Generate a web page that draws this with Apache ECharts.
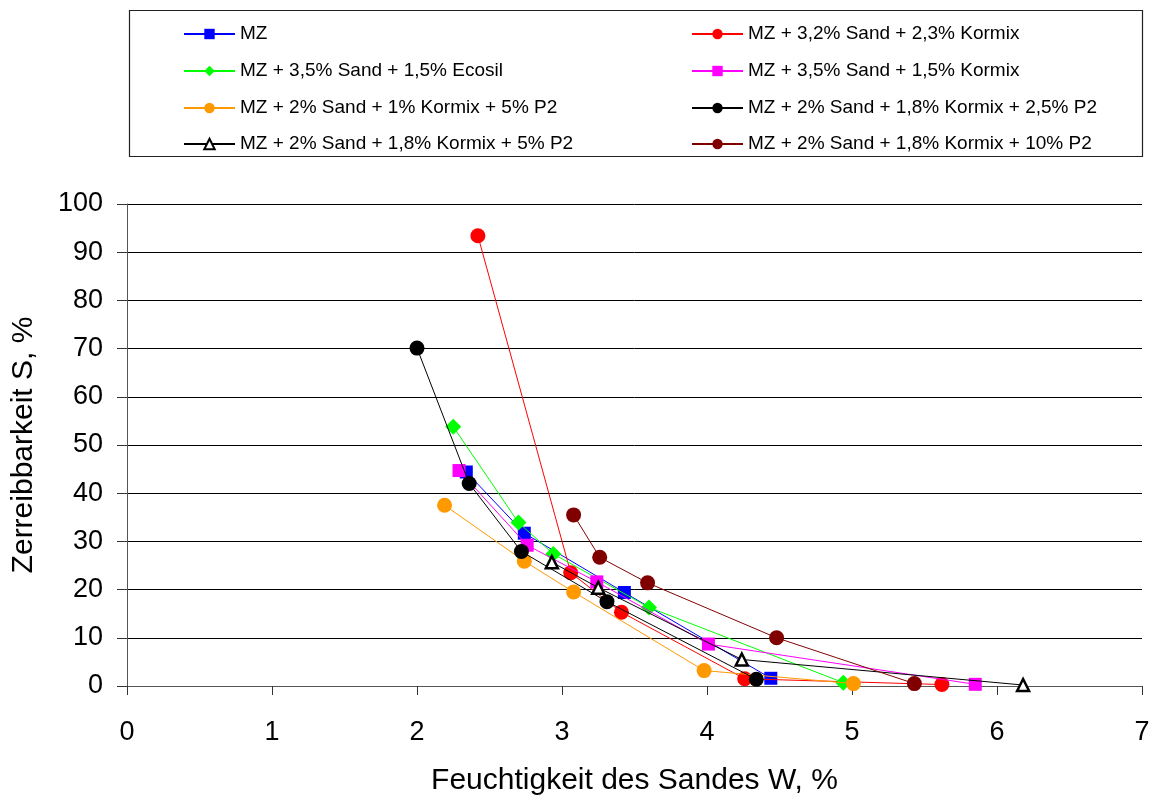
<!DOCTYPE html>
<html><head><meta charset="utf-8">
<script src="https://cdn.jsdelivr.net/npm/echarts@6/dist/echarts.min.js"></script>
<style>html,body{margin:0;padding:0;background:#fff}#c{width:1158px;height:801px}</style>
</head><body><div id="c"></div>
<script>
const seriesNames = [
  "MZ",
  "MZ + 3,2% Sand + 2,3% Kormix",
  "MZ + 3,5% Sand + 1,5% Ecosil",
  "MZ + 3,5% Sand + 1,5% Kormix",
  "MZ + 2% Sand + 1% Kormix + 5% P2",
  "MZ + 2% Sand + 1,8% Kormix + 2,5% P2",
  "MZ + 2% Sand + 1,8% Kormix + 5% P2",
  "MZ + 2% Sand + 1,8% Kormix + 10% P2"
];
const mz = [[2.34,44.4],[2.74,31.7],[3.43,19.4],[4.44,1.6]];
const sand32kormix = [[2.42,93.4],[3.06,23.5],[3.41,15.3],[4.26,1.5],[5.62,0.3]];
const sand35ecosil = [[2.25,53.8],[2.70,33.9],[2.94,27.4],[3.60,16.3],[4.94,0.7]];
const sand35kormix = [[2.29,44.7],[2.76,29.2],[3.24,21.6],[4.01,8.7],[5.85,0.35]];
const kormix1p2_5 = [[2.19,37.5],[2.74,25.9],[3.08,19.5],[3.98,3.2],[5.01,0.5]];
const kormix18p2_25 = [[2.00,70.1],[2.36,42.0],[2.72,27.9],[3.31,17.5],[4.34,1.4]];
const kormix18p2_5 = [[2.93,25.7],[3.25,20.4],[4.24,5.5],[6.18,0.2]];
const kormix18p2_10 = [[3.08,35.5],[3.26,26.7],[3.59,21.4],[4.48,10.0],[5.43,0.5]];
const xTicks = [0,1,2,3,4,5,6,7];
const yTicks = [0,10,20,30,40,50,60,70,80,90,100];

const dataList = [mz,sand32kormix,sand35ecosil,sand35kormix,kormix1p2_5,kormix18p2_25,kormix18p2_5,kormix18p2_10];
const colors = ['#0000ff','#ff0000','#00ff00','#ff00ff','#ff9900','#000000','#000000','#800000'];
const symbols = ['rect','circle','diamond','rect','circle','circle','triangle','circle'];
const sizes = [13,15,16,13,15,15,12,15];

const series = dataList.map((d,i)=>({
  name: seriesNames[i],
  type:'line',
  data:d,
  symbol:symbols[i],
  symbolSize:sizes[i],
  showAllSymbol:true,
  lineStyle:{color:colors[i],width:1},
  itemStyle: i===6 ? {color:'#ffffff',borderColor:'#000',borderWidth:2.5} : {color:colors[i],borderWidth:0},
  emphasis:{disabled:true},
  animation:false,
  z: 2+i
}));

const font = 'Liberation Sans, Arial, sans-serif';
const rowTops = [19,56,93,129];
const colLefts = [178,686];
const legends = seriesNames.map((n,i)=>({
  left: colLefts[i%2], top: rowTops[Math.floor(i/2)],
  orient:'horizontal', itemWidth:51, itemHeight:13, itemGap:0,
  textStyle:{fontFamily:font, fontSize:19, lineHeight:20, color:'#000'},
  selectedMode:false,
  data:[n]
}));

const chart = echarts.init(document.getElementById('c'),null,{renderer:'canvas'});
chart.setOption({
  animation:false,
  color:colors,
  graphic:[{type:'rect',shape:{x:129.5,y:10.5,width:1013,height:146},style:{fill:'none',stroke:'#222',lineWidth:1.2},z:-1}],
  legend:legends,
  grid:{left:127,right:16,top:204,bottom:111,containLabel:false},
  xAxis:{
    type:'value',min:0,max:7,interval:1,
    name:'Feuchtigkeit des Sandes W, %',nameLocation:'middle',nameGap:80,
    nameTextStyle:{fontFamily:font,fontSize:30,color:'#000'},
    axisLine:{show:true,lineStyle:{color:'#555',width:1}},
    axisTick:{show:true,length:9,lineStyle:{color:'#333'}},
    axisLabel:{fontFamily:font,fontSize:27,color:'#000',margin:33},
    splitLine:{show:false}
  },
  yAxis:{
    type:'value',min:0,max:100,interval:10,
    name:'Zerreibbarkeit S, %',nameLocation:'middle',nameGap:88,nameRotate:90,
    nameTextStyle:{fontFamily:font,fontSize:30,color:'#000'},
    axisLine:{show:true,lineStyle:{color:'#555',width:1}},
    axisTick:{show:true,length:10,lineStyle:{color:'#333'}},
    axisLabel:{fontFamily:font,fontSize:27,color:'#000',margin:24},
    splitLine:{show:true,lineStyle:{color:'#000',width:1}}
  },
  series:series
});
</script></body></html>
